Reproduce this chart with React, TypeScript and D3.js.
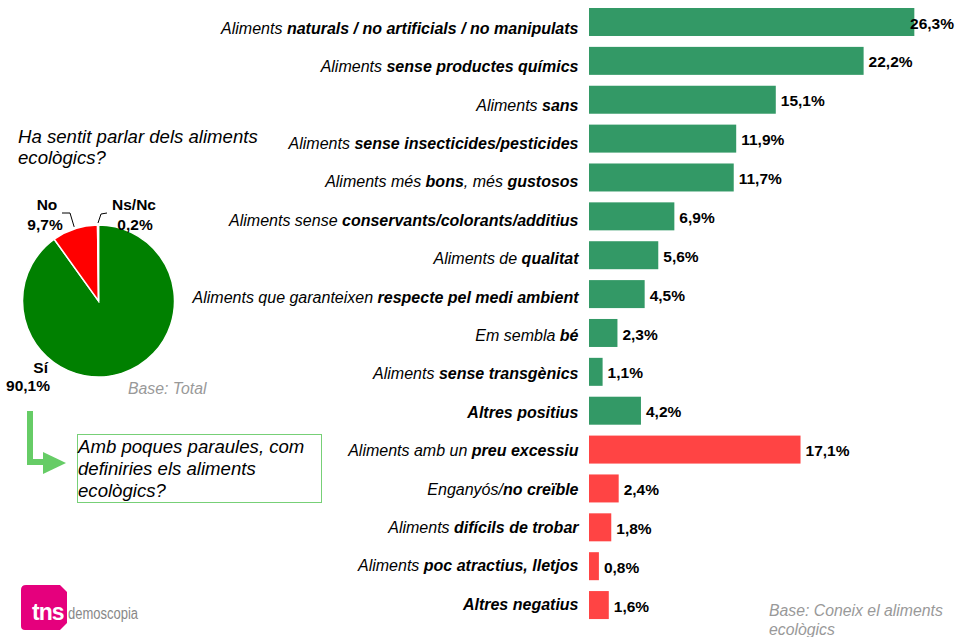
import React from "react";
import * as d3 from "d3";

// ---------- data ----------
const CATEGORIES: string[] = [
  "Aliments **naturals / no artificials / no manipulats**",
  "Aliments **sense productes químics**",
  "Aliments **sans**",
  "Aliments **sense insecticides/pesticides**",
  "Aliments més **bons**, més **gustosos**",
  "Aliments sense **conservants/colorants/additius**",
  "Aliments de **qualitat**",
  "Aliments que garanteixen **respecte pel medi ambient**",
  "Em sembla **bé**",
  "Aliments **sense transgènics**",
  "**Altres positius**",
  "Aliments amb un **preu excessiu**",
  "Enganyós/**no creïble**",
  "Aliments **difícils de trobar**",
  "Aliments **poc atractius, lletjos**",
  "**Altres negatius**",
];
const VALUES: number[] = [26.3, 22.2, 15.1, 11.9, 11.7, 6.9, 5.6, 4.5, 2.3, 1.1, 4.2, 17.1, 2.4, 1.8, 0.8, 1.6];
const TONES: string[] = ["pos", "pos", "pos", "pos", "pos", "pos", "pos", "pos", "pos", "pos", "pos", "neg", "neg", "neg", "neg", "neg"];

const PIE_LABELS: string[] = ["Sí", "No", "Ns/Nc"];
const PIE_VALUES: number[] = [90.1, 9.7, 0.2];
const PIE_COLORS: string[] = ["#008000", "#FF0000", "#FFFFFF"];

const TITLE_LINES: string[] = ["Ha sentit parlar dels aliments", "ecològics?"];
const QUESTION_LINES: string[] = ["Amb poques paraules, com", "definiries els aliments", "ecològics?"];
const BASE_PIE = "Base: Total";
const BASE_BARS: string[] = ["Base: Coneix el aliments", "ecològics"];

const fmt = (v: number) => v.toFixed(1).replace(".", ",") + "%";
const FONT = "'Liberation Sans', Arial, Helvetica, sans-serif";

function parseSegments(s: string) {
  const parts = s.split("**");
  return parts.map((t, i) => ({ text: t, bold: i % 2 === 1 })).filter((p) => p.text.length > 0);
}

export default function App() {
  React.useEffect(() => {
    document.body.style.margin = "0";
  }, []);

  const W = 957;
  const H = 637;

  // bar chart scales
  const x = d3.scaleLinear().domain([0, 30]).range([589, 589 + 30 * 12.37]);
  const y = d3
    .scaleBand<number>()
    .domain(d3.range(CATEGORIES.length))
    .range([2.56, 624.5])
    .paddingInner(0.28)
    .paddingOuter(0.14);
  const bw = y.bandwidth();
  // category labels sit on their own slightly tighter grid
  const yLab = d3.scalePoint<number>().domain(d3.range(CATEGORIES.length)).range([28, 604]);
  const colorOf = (t: string) => (t === "pos" ? "#339966" : "#FF4444");

  // pie
  const cx = 98.5;
  const cy = 301;
  const r = 76;
  const pie = d3.pie<number>().sort(null).startAngle(0).endAngle(2 * Math.PI);
  const arcs = pie(PIE_VALUES);
  const arcGen = d3.arc<d3.PieArcDatum<number>>().innerRadius(0).outerRadius(r);
  const edgePoint = (a: d3.PieArcDatum<number>, rr: number) => {
    const m = (a.startAngle + a.endAngle) / 2;
    return [cx + rr * Math.sin(m), cy - rr * Math.cos(m)];
  };
  const noEdge = edgePoint(arcs[1], r + 2);
  const nsEdge = edgePoint(arcs[2], r + 2);

  const labelFs = 15.5;
  const catFs = 16;

  return (
    <svg
      width={W}
      height={H}
      style={{ position: "absolute", left: 0, top: 0, background: "#fff" }}
      fontFamily={FONT}
    >
      <rect x={0} y={0} width={W} height={H} fill="#fff" />

      {/* Bars */}
      {VALUES.map((v, i) => (
        <rect
          key={"b" + i}
          x={x(0)}
          y={y(i)}
          width={x(v) - x(0)}
          height={bw}
          fill={colorOf(TONES[i])}
        />
      ))}

      {/* Value labels */}
      {VALUES.map((v, i) => {
        const end = x(v);
        const estW = 44;
        const overflow = end + 5 + estW > 954;
        return (
          <text
            key={"v" + i}
            x={overflow ? 954 : end + 5}
            y={(y(i) as number) + bw / 2 + 1}
            dy="0.36em"
            textAnchor={overflow ? "end" : "start"}
            fontSize={labelFs}
            fontWeight="bold"
            fill="#000"
          >
            {fmt(v)}
          </text>
        );
      })}

      {/* Category labels */}
      {CATEGORIES.map((c, i) => (
        <text
          key={"c" + i}
          x={578.5}
          y={yLab(i) as number}
          dy="0.36em"
          textAnchor="end"
          fontSize={catFs}
          fontStyle="italic"
          fill="#000"
        >
          {parseSegments(c).map((s, j) => (
            <tspan key={j} fontWeight={s.bold ? "bold" : "normal"}>
              {s.text}
            </tspan>
          ))}
        </text>
      ))}

      {/* Title */}
      {TITLE_LINES.map((t, i) => (
        <text key={"t" + i} x={18} y={143 + i * 21} fontSize={18.6} fontStyle="italic" fill="#000">
          {t}
        </text>
      ))}

      {/* Pie */}
      <g>
        {arcs.map((a, i) => (
          <path
            key={"p" + i}
            d={arcGen(a) || ""}
            transform={`translate(${cx},${cy})`}
            fill={PIE_COLORS[i]}
            stroke="#fff"
            strokeWidth={1.5}
          />
        ))}
      </g>
      {/* leader lines */}
      <polyline
        points={`62,213 70,213 ${noEdge[0]},${noEdge[1]}`}
        fill="none"
        stroke="#000"
        strokeWidth={1}
      />
      <polyline
        points={`107,213 101,214 ${nsEdge[0]},${nsEdge[1]}`}
        fill="none"
        stroke="#000"
        strokeWidth={1}
      />
      {/* pie labels */}
      <text x={47} y={210} textAnchor="middle" fontSize={labelFs} fontWeight="bold">
        {PIE_LABELS[1]}
      </text>
      <text x={45} y={230} textAnchor="middle" fontSize={labelFs} fontWeight="bold">
        {fmt(PIE_VALUES[1])}
      </text>
      <text x={134} y={210} textAnchor="middle" fontSize={labelFs} fontWeight="bold">
        {PIE_LABELS[2]}
      </text>
      <text x={135} y={230} textAnchor="middle" fontSize={labelFs} fontWeight="bold">
        {fmt(PIE_VALUES[2])}
      </text>
      <text x={48} y={373} textAnchor="end" fontSize={labelFs} fontWeight="bold">
        {PIE_LABELS[0]}
      </text>
      <text x={50} y={391} textAnchor="end" fontSize={labelFs} fontWeight="bold">
        {fmt(PIE_VALUES[0])}
      </text>
      <text x={128} y={394} fontSize={15.8} fontStyle="italic" fill="#999">
        {BASE_PIE}
      </text>

      {/* Arrow */}
      <path d="M27,411 L33,411 L33,459 L43,459 L43,465 L27,465 Z" fill="#66CC66" />
      <path d="M43,452 L66,463 L43,474 Z" fill="#66CC66" />

      {/* Question box */}
      <rect x={77.5} y={434.5} width={244} height={68} fill="#fff" stroke="#77D077" strokeWidth={1} />
      {QUESTION_LINES.map((t, i) => (
        <text key={"q" + i} x={78} y={453 + i * 22} fontSize={18.6} fontStyle="italic" fill="#000">
          {t}
        </text>
      ))}

      {/* Base bars */}
      {BASE_BARS.map((t, i) => (
        <text key={"bb" + i} x={769} y={616 + i * 19} fontSize={15.8} fontStyle="italic" fill="#999">
          {t}
        </text>
      ))}

      {/* Logo */}
      <path
        d="M26,585 L60,585 L67,592 L67,623 L60,630 L25,630 Q21,630 21,626 L21,590 Q21,585 26,585 Z"
        fill="#E5007D"
      />
      <text x={32} y={620} fontSize={23} fontWeight="bold" fill="#fff" letterSpacing={-1}>
        tns
      </text>
      <text
        x={68}
        y={619}
        fontSize={16}
        fill="#888"
        textLength={70}
        lengthAdjust="spacingAndGlyphs"
      >
        demoscopia
      </text>
    </svg>
  );
}
